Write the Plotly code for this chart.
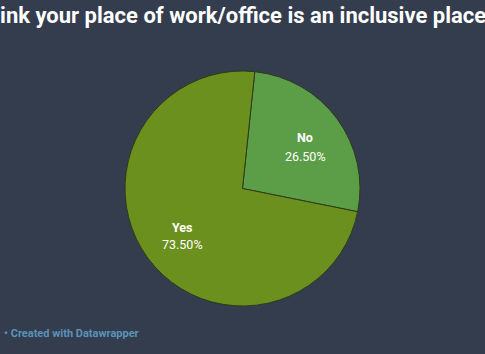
import plotly.graph_objects as go

labels = ["No", "Yes"]
values = [26.5, 73.5]
colors = ["#5c9e48", "#6c901e"]
title_text = "Do you think your place of work/office is an inclusive place?"
footer_text = "• Created with Datawrapper"

fig = go.Figure(go.Pie(
    labels=labels,
    values=values,
    sort=False,
    direction="clockwise",
    rotation=6,
    marker=dict(colors=colors, line=dict(color="#2f3a1c", width=1)),
    textinfo="none",
    hoverinfo="label+percent",
    showlegend=False,
    domain=dict(x=[0, 1], y=[0, 1]),
))

# label placement (paper coords) for each slice: name line and value line
label_pos = {"No": (0.764, 0.715, 0.638), "Yes": (0.245, 0.336, 0.262)}
annotations = []
for lab, val in zip(labels, values):
    x, y1, y2 = label_pos[lab]
    annotations.append(dict(
        text=f"<b>{lab}</b>", xref="paper", yref="paper", x=x, y=y1,
        xanchor="center", yanchor="middle", showarrow=False,
        font=dict(family="Roboto", size=12.5, color="white")))
    annotations.append(dict(
        text=f"{val:.2f}%", xref="paper", yref="paper", x=x, y=y2,
        xanchor="center", yanchor="middle", showarrow=False,
        font=dict(family="Roboto", size=12.5, color="white")))

annotations.append(dict(
    text=f"<b>{title_text}</b>",
    xref="paper", yref="paper", x=1.583, y=1.235,
    xanchor="right", yanchor="middle", showarrow=False,
    font=dict(family="Roboto", size=22, color="white"),
))
annotations.append(dict(
    text=f"<b>{footer_text}</b>",
    xref="paper", yref="paper", x=-0.515, y=-0.115,
    xanchor="left", yanchor="middle", showarrow=False,
    font=dict(family="Roboto", size=11, color="#5b93b8"),
))

fig.update_layout(
    width=485, height=354,
    paper_bgcolor="#333d4d",
    plot_bgcolor="#333d4d",
    margin=dict(l=124, r=124, t=71, b=48),
    annotations=annotations,
)

fig.write_html("out.html")
